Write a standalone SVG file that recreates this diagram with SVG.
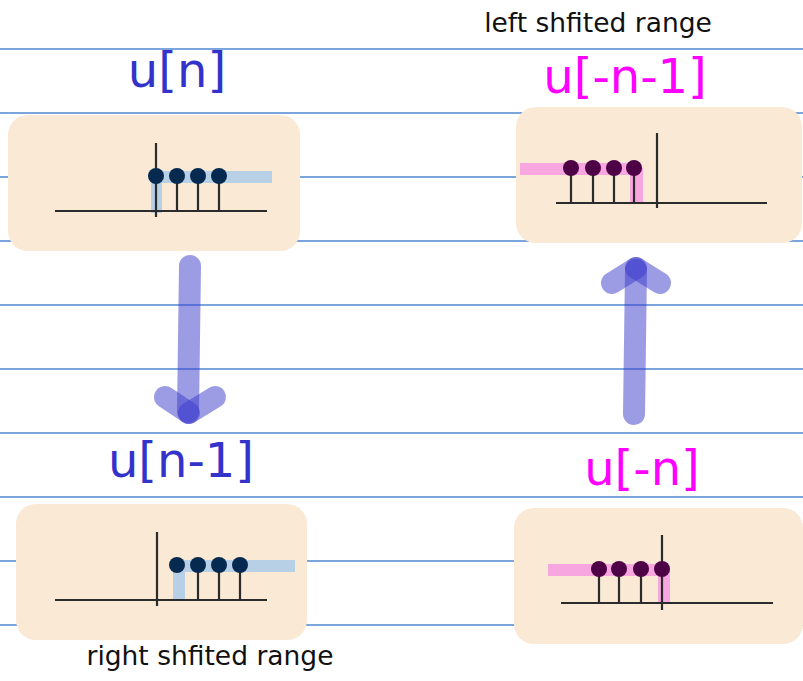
<svg xmlns="http://www.w3.org/2000/svg" width="803" height="681" viewBox="0 0 803 681">
<style>
.rule{stroke:#4f88d2;stroke-width:1.3}
.box{fill:#f9e9d5}
.ax{stroke:#2b2b2b;stroke-width:2.2;fill:none}
.dotb{fill:#062a4f}
.dotp{fill:#4d0046}
.bandb{fill:#b7d0e6}
.bandp{fill:#f8a6e0}
.big{font-family:"DejaVu Sans",sans-serif;font-size:48px;text-anchor:middle}
.small{font-family:"DejaVu Sans",sans-serif;font-size:26.5px;text-anchor:middle;fill:#111}
.arr{stroke:#3a3acc;stroke-opacity:0.5;stroke-width:22;stroke-linecap:round;fill:none}
</style>
<rect width="803" height="681" fill="#ffffff"/>
<g id="rules">
<line class="rule" x1="0" y1="49" x2="803" y2="49"/>
<line class="rule" x1="0" y1="113" x2="803" y2="113"/>
<line class="rule" x1="0" y1="177" x2="803" y2="177"/>
<line class="rule" x1="0" y1="241" x2="803" y2="241"/>
<line class="rule" x1="0" y1="305" x2="803" y2="305"/>
<line class="rule" x1="0" y1="369" x2="803" y2="369"/>
<line class="rule" x1="0" y1="433" x2="803" y2="433"/>
<line class="rule" x1="0" y1="497" x2="803" y2="497"/>
<line class="rule" x1="0" y1="561" x2="803" y2="561"/>
<line class="rule" x1="0" y1="625" x2="803" y2="625"/>
</g>
<g id="node-un">
<text class="big" x="177" y="87" fill="#3333cc">u[n]</text>
<rect class="box" x="8" y="115" width="292" height="136" rx="20"/>
<rect class="bandb" x="156" y="171" width="116" height="12"/>
<rect class="bandb" x="151" y="176" width="11" height="37"/>
<line class="ax" x1="55" y1="211" x2="267" y2="211"/>
<line class="ax" x1="156" y1="143" x2="156" y2="217"/>
<line class="ax" x1="177" y1="176" x2="177" y2="211"/>
<line class="ax" x1="198" y1="176" x2="198" y2="211"/>
<line class="ax" x1="219" y1="176" x2="219" y2="211"/>
<circle class="dotb" cx="156" cy="176" r="8"/>
<circle class="dotb" cx="177" cy="176" r="8"/>
<circle class="dotb" cx="198" cy="176" r="8"/>
<circle class="dotb" cx="219" cy="176" r="8"/>
</g>
<g id="node-u-n-1">
<text class="small" x="598" y="32">left shfited range</text>
<text class="big" x="625" y="93" fill="#ff00ff">u[-n-1]</text>
<rect class="box" x="516" y="107" width="286" height="136" rx="20"/>
<rect class="bandp" x="520" y="163" width="114" height="12"/>
<rect class="bandp" x="630" y="168" width="13" height="36"/>
<line class="ax" x1="556" y1="203" x2="767" y2="203"/>
<line class="ax" x1="657" y1="133" x2="657" y2="208"/>
<line class="ax" x1="571" y1="168" x2="571" y2="203"/>
<line class="ax" x1="593" y1="168" x2="593" y2="203"/>
<line class="ax" x1="614" y1="168" x2="614" y2="203"/>
<line class="ax" x1="634" y1="168" x2="634" y2="203" stroke="#6a0a5a"/>
<circle class="dotp" cx="571" cy="168" r="8"/>
<circle class="dotp" cx="593" cy="168" r="8"/>
<circle class="dotp" cx="614" cy="168" r="8"/>
<circle class="dotp" cx="634" cy="168" r="8"/>
</g>
<g id="node-un-1">
<text class="big" x="181" y="477" fill="#3333cc">u[n-1]</text>
<rect class="box" x="16" y="504" width="291" height="136" rx="20"/>
<rect class="bandb" x="177" y="560" width="118" height="12"/>
<rect class="bandb" x="173" y="565" width="12" height="36"/>
<line class="ax" x1="55" y1="600" x2="267" y2="600"/>
<line class="ax" x1="157" y1="532" x2="157" y2="606"/>
<line class="ax" x1="198" y1="565" x2="198" y2="600"/>
<line class="ax" x1="219" y1="565" x2="219" y2="600"/>
<line class="ax" x1="240" y1="565" x2="240" y2="600"/>
<circle class="dotb" cx="177" cy="565" r="8"/>
<circle class="dotb" cx="198" cy="565" r="8"/>
<circle class="dotb" cx="219" cy="565" r="8"/>
<circle class="dotb" cx="240" cy="565" r="8"/>
<text class="small" x="210" y="665">right shfited range</text>
</g>
<g id="node-u-n">
<text class="big" x="642" y="485" fill="#ff00ff">u[-n]</text>
<rect class="box" x="514" y="508" width="289" height="136" rx="20"/>
<rect class="bandp" x="548" y="564" width="114" height="12"/>
<rect class="bandp" x="658" y="569" width="12" height="35"/>
<line class="ax" x1="561" y1="603" x2="773" y2="603"/>
<line class="ax" x1="662" y1="535" x2="662" y2="610"/>
<line class="ax" x1="599" y1="569" x2="599" y2="603"/>
<line class="ax" x1="619" y1="569" x2="619" y2="603"/>
<line class="ax" x1="641" y1="569" x2="641" y2="603"/>
<circle class="dotp" cx="599" cy="569" r="8"/>
<circle class="dotp" cx="619" cy="569" r="8"/>
<circle class="dotp" cx="641" cy="569" r="8"/>
<circle class="dotp" cx="662" cy="569" r="8"/>
</g>
<g id="connectors">
<line class="arr" x1="190" y1="266" x2="188" y2="412"/>
<line class="arr" x1="165" y1="397" x2="189" y2="413"/>
<line class="arr" x1="215" y1="397" x2="189" y2="413"/>
<line class="arr" x1="634" y1="414" x2="636" y2="270"/>
<line class="arr" x1="612" y1="283" x2="636" y2="268"/>
<line class="arr" x1="660" y1="283" x2="636" y2="268"/>
</g>
</svg>
